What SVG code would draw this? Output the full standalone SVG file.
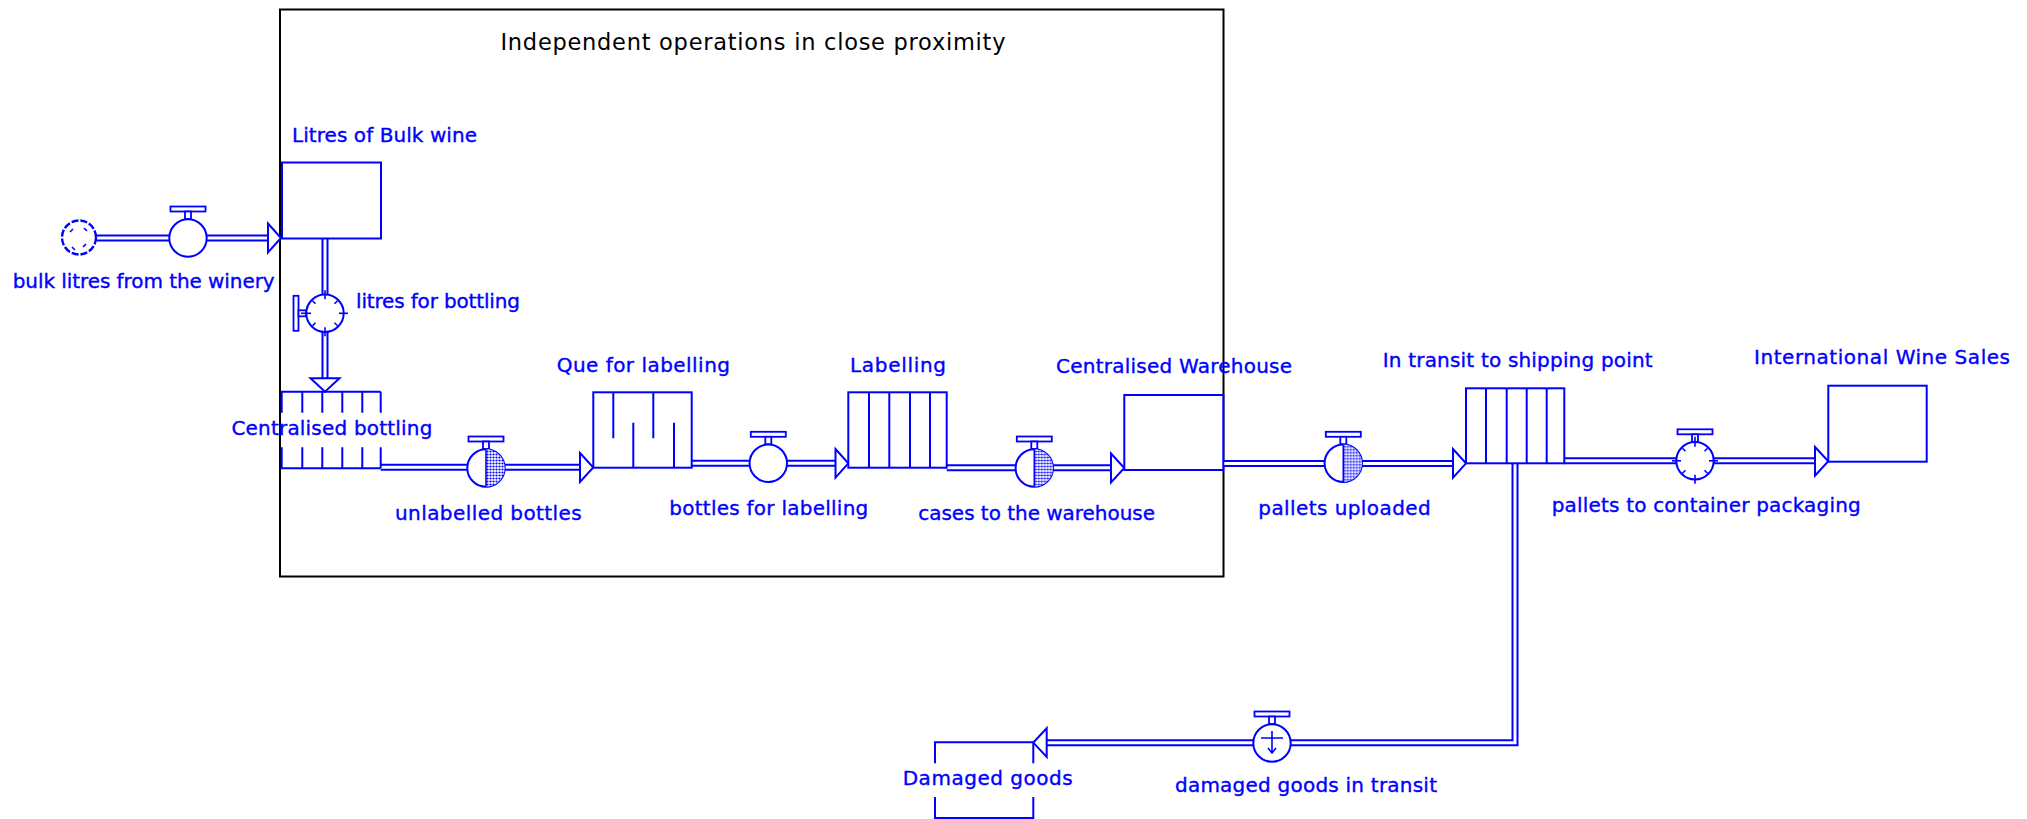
<svg xmlns="http://www.w3.org/2000/svg" xmlns:xlink="http://www.w3.org/1999/xlink" width="2027" height="819" viewBox="0 0 2027 819">
<style>
.lbl{font-family:"DejaVu Sans","Liberation Sans",sans-serif;font-size:20px;fill:#0000ff;stroke:#0000ff;stroke-width:0.35}
.title{font-family:"DejaVu Sans","Liberation Sans",sans-serif;font-size:22.5px;fill:#000}
.stk{fill:#fff;stroke:#0000ff;stroke-width:2}
.ln{fill:none;stroke:#0000ff;stroke-width:2}
.po{fill:none;stroke:#0000ff;stroke-width:7}
.pi{fill:none;stroke:#fff;stroke-width:3}
.arr{fill:#fff;stroke:#0000ff;stroke-width:2;stroke-linejoin:miter}
.vc{fill:#fff;stroke:#0000ff;stroke-width:2}
.hd{fill:#fff;stroke:#0000ff;stroke-width:1.8}
.tk{fill:none;stroke:#0000ff;stroke-width:1.6}
</style>
<defs>
<pattern id="dots" width="3" height="3" patternUnits="userSpaceOnUse">
<rect width="3" height="3" fill="#fff"/>
<circle cx="1.5" cy="1.5" r="1.1" fill="#0000ff"/>
</pattern>
<g id="handle">
<rect x="-17.5" y="-31.5" width="35" height="5" class="hd"/>
<rect x="-3" y="-26.5" width="6" height="7.5" class="hd"/>
</g>
<g id="vPlain">
<use href="#handle"/>
<circle r="18.7" class="vc"/>
</g>
<g id="vHatch">
<use href="#handle"/>
<circle r="18.7" class="vc"/>
<path d="M0,-18.7 A18.7,18.7 0 0 1 0,18.7 Z" fill="url(#dots)"/>
<line x1="0" y1="-18.7" x2="0" y2="18.7" class="tk"/>
</g>
<g id="clock">
<circle r="18.7" class="vc"/>
<line x1="0" y1="-24" x2="0" y2="-14" class="tk"/>
<line x1="14" y1="0" x2="23" y2="0" class="tk"/>
<line x1="0" y1="14" x2="0" y2="23" class="tk"/>
<line x1="-23" y1="0" x2="-14" y2="0" class="tk"/>
<line x1="9.5" y1="-9.5" x2="12.5" y2="-12.5" class="tk"/>
<line x1="9.5" y1="9.5" x2="12.5" y2="12.5" class="tk"/>
<line x1="-9.5" y1="9.5" x2="-12.5" y2="12.5" class="tk"/>
<line x1="-9.5" y1="-9.5" x2="-12.5" y2="-12.5" class="tk"/>
</g>
</defs>

<rect width="2027" height="819" fill="#fff"/>

<g id="frame">
<rect x="280" y="9.5" width="943.5" height="567" fill="none" stroke="#000" stroke-width="2"/>
<text class="title" x="500.5" y="49.8" textLength="505" lengthAdjust="spacing">Independent operations in close proximity</text>
</g>

<g id="connectors">
<path class="po" d="M96.7,238 H268.5"/><path class="pi" d="M96.7,238 H268.5"/>
<path class="po" d="M325,238.3 V378.5"/><path class="pi" d="M325,238.3 V378.5"/>
<path class="po" d="M380.7,467.3 H580"/><path class="pi" d="M380.7,467.3 H580"/>
<path class="po" d="M691.7,463.3 H835.7"/><path class="pi" d="M691.7,463.3 H835.7"/>
<path class="po" d="M946.7,467.8 H1111"/><path class="pi" d="M946.7,467.8 H1111"/>
<path class="po" d="M1223.3,463.5 H1453.3"/><path class="pi" d="M1223.3,463.5 H1453.3"/>
<path class="po" d="M1564.3,460.8 H1815"/><path class="pi" d="M1564.3,460.8 H1815"/>
<path class="po" d="M1515,463.3 V742.8 H1046.7"/><path class="pi" d="M1515,461 V742.8 H1046.7"/>
<polygon class="arr" points="268,223.5 281,238 268,252.5"/>
<polygon class="arr" points="310.5,378.3 325,391.7 339.5,378.3"/>
<polygon class="arr" points="580,453 593.3,467.5 580,482"/>
<polygon class="arr" points="835.5,449 848.3,463.3 835.5,477.6"/>
<polygon class="arr" points="1111,453.5 1124.3,468 1111,482.5"/>
<polygon class="arr" points="1453,449 1466,463.3 1453,477.6"/>
<polygon class="arr" points="1815,447 1828.3,461.3 1815,475.6"/>
<polygon class="arr" points="1046.7,728.3 1033.3,742.6 1046.7,756.9"/>
</g>

<g id="cloud-source">
<circle cx="79" cy="237.5" r="17" fill="#fff" stroke="#0000ff" stroke-width="2.4" stroke-dasharray="7 2"/>
<path class="tk" d="M70,232 l3,-3 M84,228 l3,3 M72,247 l3,3 M86,244 l-3,3"/>
</g>

<g id="flow-bulk-litres">
<use href="#vPlain" x="188" y="238"/>
<text class="lbl" x="12.7" y="288" textLength="262" lengthAdjust="spacing">bulk litres from the winery</text>
</g>

<g id="stock-litres-bulk-wine">
<rect class="stk" x="282" y="162.5" width="99" height="76"/>
<text class="lbl" x="292" y="141.7" textLength="185" lengthAdjust="spacing">Litres of Bulk wine</text>
</g>

<g id="flow-litres-for-bottling">
<g transform="translate(325,313.3) rotate(-90)">
<use href="#handle"/>
<use href="#clock"/>
</g>
<text class="lbl" x="356" y="308.3" textLength="164" lengthAdjust="spacing">litres for bottling</text>
</g>

<g id="stock-centralised-bottling">
<path class="ln" d="M281,391.7 H380.7 M281,468.3 H380.7 M281.7,391.7 V412.7 M302.3,391.7 V412.7 M322.3,391.7 V412.7 M342.3,391.7 V412.7 M362.3,391.7 V412.7 M380.7,391.7 V412.7 M281.7,447.3 V468.3 M302.3,447.3 V468.3 M322.3,447.3 V468.3 M342.3,447.3 V468.3 M362.3,447.3 V468.3 M380.7,447.3 V468.3"/>
<text class="lbl" x="231.4" y="435" textLength="201" lengthAdjust="spacing">Centralised bottling</text>
</g>

<g id="flow-unlabelled-bottles">
<use href="#vHatch" x="486" y="468"/>
<text class="lbl" x="395" y="520" textLength="186.7" lengthAdjust="spacing">unlabelled bottles</text>
</g>

<g id="stock-que-for-labelling">
<rect class="stk" x="593.3" y="392.3" width="98.4" height="75.4"/>
<path class="ln" d="M613.3,392.3 V438.3 M633.3,467.7 V422.7 M653.3,392.3 V438.3 M674,467.7 V422.7"/>
<text class="lbl" x="556.7" y="371.7" textLength="173.3" lengthAdjust="spacing">Que for labelling</text>
</g>

<g id="flow-bottles-for-labelling">
<use href="#vPlain" x="768.3" y="463.3"/>
<text class="lbl" x="669.3" y="515" textLength="199" lengthAdjust="spacing">bottles for labelling</text>
</g>

<g id="stock-labelling">
<rect class="stk" x="848.3" y="392.3" width="98.4" height="75.4"/>
<path class="ln" d="M869,392.3 V467.7 M889.3,392.3 V467.7 M910,392.3 V467.7 M930,392.3 V467.7"/>
<text class="lbl" x="850" y="371.7" textLength="96" lengthAdjust="spacing">Labelling</text>
</g>

<g id="flow-cases-to-warehouse">
<use href="#vHatch" x="1034.3" y="468"/>
<text class="lbl" x="918.3" y="520" textLength="236.7" lengthAdjust="spacing">cases to the warehouse</text>
</g>

<g id="stock-centralised-warehouse">
<rect class="stk" x="1124.3" y="395" width="99" height="75"/>
<text class="lbl" x="1056" y="373.3" textLength="236" lengthAdjust="spacing">Centralised Warehouse</text>
</g>

<g id="flow-pallets-uploaded">
<use href="#vHatch" x="1343.3" y="463.3"/>
<text class="lbl" x="1258.3" y="515" textLength="172.4" lengthAdjust="spacing">pallets uploaded</text>
</g>

<g id="stock-in-transit">
<rect class="stk" x="1466" y="388.3" width="98.3" height="75"/>
<path class="ln" d="M1486,388.3 V463.3 M1506.7,388.3 V463.3 M1526.7,388.3 V463.3 M1546.7,388.3 V463.3"/>
<text class="lbl" x="1382.7" y="366.7" textLength="270" lengthAdjust="spacing">In transit to shipping point</text>
</g>

<g id="flow-pallets-to-container">
<g transform="translate(1695,460.8)">
<use href="#handle"/>
<use href="#clock"/>
</g>
<text class="lbl" x="1551.7" y="511.7" textLength="309" lengthAdjust="spacing">pallets to container packaging</text>
</g>

<g id="stock-international-wine-sales">
<rect class="stk" x="1828.3" y="385.7" width="98.4" height="76"/>
<text class="lbl" x="1754" y="364" textLength="256" lengthAdjust="spacing">International Wine Sales</text>
</g>

<g id="flow-damaged-goods-in-transit">
<g transform="translate(1272,743)">
<use href="#handle"/>
<circle r="18.7" class="vc"/>
<path class="tk" d="M-11,-5 H11 M0,-12 V10 M-4,5 L0,10 L4,5"/>
</g>
<text class="lbl" x="1175" y="791.7" textLength="262" lengthAdjust="spacing">damaged goods in transit</text>
</g>

<g id="stock-damaged-goods">
<path class="ln" d="M935,763.3 V742.3 H1033.3 V763.3 M935,797 V818 H1033.3 V797"/>
<text class="lbl" x="902.7" y="785" textLength="170" lengthAdjust="spacing">Damaged goods</text>
</g>
</svg>
